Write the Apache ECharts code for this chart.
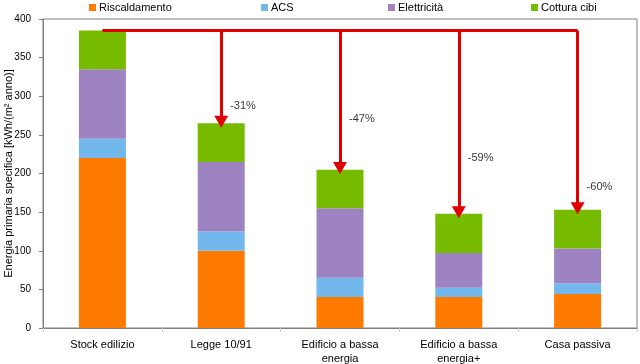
<!DOCTYPE html>
<html><head><meta charset="utf-8">
<script src="https://cdn.jsdelivr.net/npm/echarts@6/dist/echarts.min.js"></script>
<style>html,body{margin:0;padding:0;background:#fff}#c{width:640px;height:364px}</style>
</head><body><div id="c"></div>
<script>
const categories = ['Stock edilizio', 'Legge 10/91', 'Edificio a bassa\nenergia', 'Edificio a bassa\nenergia+', 'Casa passiva'];
const riscaldamento = [220, 100, 40, 40, 44];
const acs = [25, 25, 25, 12, 14];
const elettricita = [90, 90, 90, 45, 45];
const cottura = [50, 50, 50, 51, 50];
const yTicks = [0, 50, 100, 150, 200, 250, 300, 350, 400];
const reductionLabels = ['-31%', '-47%', '-59%', '-60%'];
const labelValues = [287, 270, 220, 182];
const baseline = 385;
const arrowEnds = [267, 207, 150, 155];

const FONT = 'Liberation Sans, Arial, sans-serif';
const RED = '#e00000';
const chart = echarts.init(document.getElementById('c'));

const markData = [[{coord: [0, baseline], symbol: 'none'}, {coord: [4, baseline], symbol: 'none'}]];
for (let i = 0; i < 4; i++) {
  markData.push([{coord: [i + 1, baseline], symbol: 'none'}, {coord: [i + 1, arrowEnds[i]], symbol: 'triangle', symbolSize: [14, 12], symbolRotate: 180}]);
}

const barSeries = (name, data, color) => ({
  name, type: 'bar', stack: 'e', data, barWidth: 47,
  itemStyle: {color}, emphasis: {disabled: true}
});

const legendItem = (name, left) => ({
  data: [name], left, top: -3, itemWidth: 7, itemHeight: 7, icon: 'rect', itemGap: 4,
  textStyle: {fontFamily: FONT, fontSize: 11, color: '#000', padding: [0, 0, 0, -2]},
  selectedMode: false
});

chart.setOption({
  animation: false,
  backgroundColor: '#fff',
  legend: [
    legendItem('Riscaldamento', 84),
    legendItem('ACS', 256),
    legendItem('Elettricità', 383),
    legendItem('Cottura cibi', 526)
  ],
  grid: {left: 43, right: 3, top: 19, bottom: 36, show: true, borderColor: '#7f7f7f', borderWidth: 1,
    containLabel: false, outerBoundsMode: 'none'},
  xAxis: {
    type: 'category', data: categories,
    axisLine: {lineStyle: {color: '#7f7f7f'}},
    axisTick: {show: true, alignWithLabel: false, length: 4, lineStyle: {color: '#ccc'}},
    axisLabel: {fontFamily: FONT, fontSize: 11, color: '#000', margin: 10, lineHeight: 14, interval: 0}
  },
  yAxis: {
    type: 'value', min: 0, max: 400, interval: 50,
    name: 'Energia primaria specifica [kWh/(m² anno)]',
    nameLocation: 'middle', nameGap: 29, nameRotate: 90, nameMoveOverlap: false,
    nameTextStyle: {fontFamily: FONT, fontSize: 11, color: '#000'},
    axisLine: {show: true, lineStyle: {color: '#7f7f7f'}},
    axisTick: {show: true, length: 4, lineStyle: {color: '#7f7f7f'}},
    splitLine: {show: false},
    axisLabel: {fontFamily: FONT, fontSize: 10, color: '#000', margin: 12,
      formatter: v => yTicks.includes(v) ? String(v) : ''}
  },
  series: [
    barSeries('Riscaldamento', riscaldamento, '#ff7a00'),
    barSeries('ACS', acs, '#72b8ec'),
    barSeries('Elettricità', elettricita, '#9e83c2'),
    barSeries('Cottura cibi', cottura, '#77bb00'),
    {
      type: 'scatter', symbolSize: 0, silent: true,
      data: reductionLabels.map((t, i) => [i + 1, labelValues[i], t]),
      label: {show: true, position: 'right', distance: 9, formatter: p => p.data[2],
        fontFamily: FONT, fontSize: 11, color: '#000'},
      markLine: {
        silent: true, animation: false, symbol: 'none',
        lineStyle: {color: RED, width: 3, type: 'solid'},
        itemStyle: {color: RED},
        label: {show: false},
        emphasis: {disabled: true},
        data: markData
      }
    }
  ]
});
</script></body></html>
